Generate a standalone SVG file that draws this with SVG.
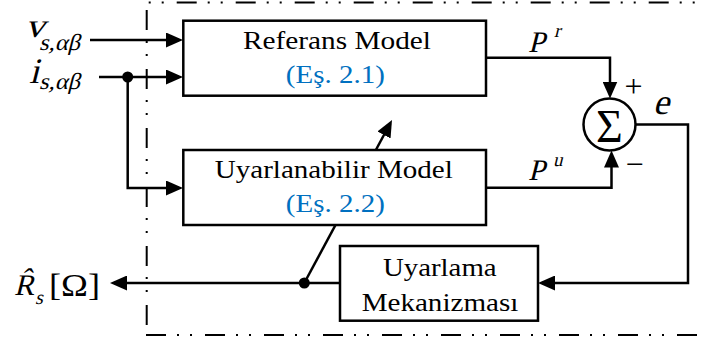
<svg xmlns="http://www.w3.org/2000/svg" width="704" height="340" viewBox="0 0 704 340">
<defs>
<style>
.ln{fill:none;stroke:#000;stroke-width:2.5}
.bx{fill:#fff;stroke:#000;stroke-width:2.5}
.bd{fill:none;stroke:#000;stroke-width:2;stroke-dasharray:20 11 2 11 2 13}
.t{font-family:"Liberation Serif","Times New Roman",serif;font-size:26px;fill:#000;text-anchor:middle}
.b{fill:#0070C0}
.s{font-family:"Liberation Serif","Times New Roman",serif;fill:#000}
</style>
<marker id="ah" markerUnits="userSpaceOnUse" viewBox="0 0 17 15" markerWidth="17" markerHeight="15" refX="13" refY="7.5" orient="auto">
<path d="M0,0 L17,7.5 L0,15 Z" fill="#000"/>
</marker>
</defs>
<g id="border">
<line class="bd" x1="146.7" y1="2.5" x2="704" y2="2.5" stroke-dashoffset="29"/>
<line class="bd" x1="146.7" y1="2.5" x2="146.7" y2="335" stroke-dashoffset="51.5"/>
<line class="bd" x1="146" y1="335" x2="704" y2="335"/>
</g>
<g id="connectors">
<path class="ln" d="M90,40 H179" marker-end="url(#ah)"/>
<path class="ln" d="M99,77 H179" marker-end="url(#ah)"/>
<path class="ln" d="M127.7,77 V188 H179" marker-end="url(#ah)"/>
<path class="ln" d="M486,57.7 H610 V94.5" marker-end="url(#ah)"/>
<path class="ln" d="M486,187.7 H611.5 V154.5" marker-end="url(#ah)"/>
<path class="ln" d="M635.5,124.5 H688 V283 H542" marker-end="url(#ah)"/>
<path class="ln" d="M340,283 H114" marker-end="url(#ah)"/>
<path class="ln" d="M304.3,283 L390.1,123.5" marker-end="url(#ah)"/>
<circle cx="127.7" cy="77" r="5.5" fill="#000"/>
<circle cx="304.3" cy="283" r="5.5" fill="#000"/>
</g>
<g id="referans">
<rect class="bx" x="183.3" y="20.7" width="302.7" height="75"/>
<text class="t" x="337" y="49.3" textLength="188" lengthAdjust="spacingAndGlyphs">Referans Model</text>
<text class="t b" x="335.3" y="83" textLength="99" lengthAdjust="spacingAndGlyphs">(Eş. 2.1)</text>
</g>
<g id="uyarlanabilir">
<rect class="bx" x="183.3" y="150" width="302.7" height="75"/>
<text class="t" x="333.8" y="178.3" textLength="238" lengthAdjust="spacingAndGlyphs">Uyarlanabilir Model</text>
<text class="t b" x="335.3" y="212.3" textLength="99" lengthAdjust="spacingAndGlyphs">(Eş. 2.2)</text>
</g>
<g id="mekanizma">
<rect class="bx" x="340" y="246" width="198" height="74.7"/>
<text class="t" x="439.8" y="276" textLength="113.7" lengthAdjust="spacingAndGlyphs">Uyarlama</text>
<text class="t" x="440" y="311" textLength="156.7" lengthAdjust="spacingAndGlyphs">Mekanizması</text>
</g>
<g id="sum">
<circle cx="609.5" cy="124.5" r="26" fill="#fff" stroke="#000" stroke-width="2.5"/>
<text class="s" x="609.5" y="141.5" font-size="46" text-anchor="middle">Σ</text>
<text class="s" x="633.5" y="97" font-size="32" text-anchor="middle">+</text>
<text class="s" x="634.5" y="175" font-size="32" text-anchor="middle">−</text>
</g>
<g id="labels">
<text class="s" transform="translate(25,37) scale(1.15,1) skewX(-14)" font-size="34">v</text>
<text class="s" transform="translate(39,50) skewX(-14)" font-size="23" textLength="41" lengthAdjust="spacingAndGlyphs">s,αβ</text>
<text class="s" transform="translate(29,83) skewX(-14)" font-size="36">i</text>
<text class="s" transform="translate(39,89) skewX(-14)" font-size="23" textLength="41" lengthAdjust="spacingAndGlyphs">s,αβ</text>
<text class="s" transform="translate(528,52) skewX(-14)" font-size="30">P</text>
<text class="s" transform="translate(554,37) skewX(-14)" font-size="19">r</text>
<text class="s" transform="translate(528,180) skewX(-14)" font-size="30">P</text>
<text class="s" transform="translate(553,166) skewX(-14)" font-size="19">u</text>
<text class="s" transform="translate(653,114) skewX(-14)" font-size="36">e</text>
<text class="s" transform="translate(14,295) skewX(-14)" font-size="30">R̂</text>
<text class="s" transform="translate(35,304) skewX(-14)" font-size="20">s</text>
<text class="s" x="49" y="296" font-size="32" textLength="51" lengthAdjust="spacingAndGlyphs">[Ω]</text>
</g>
</svg>
